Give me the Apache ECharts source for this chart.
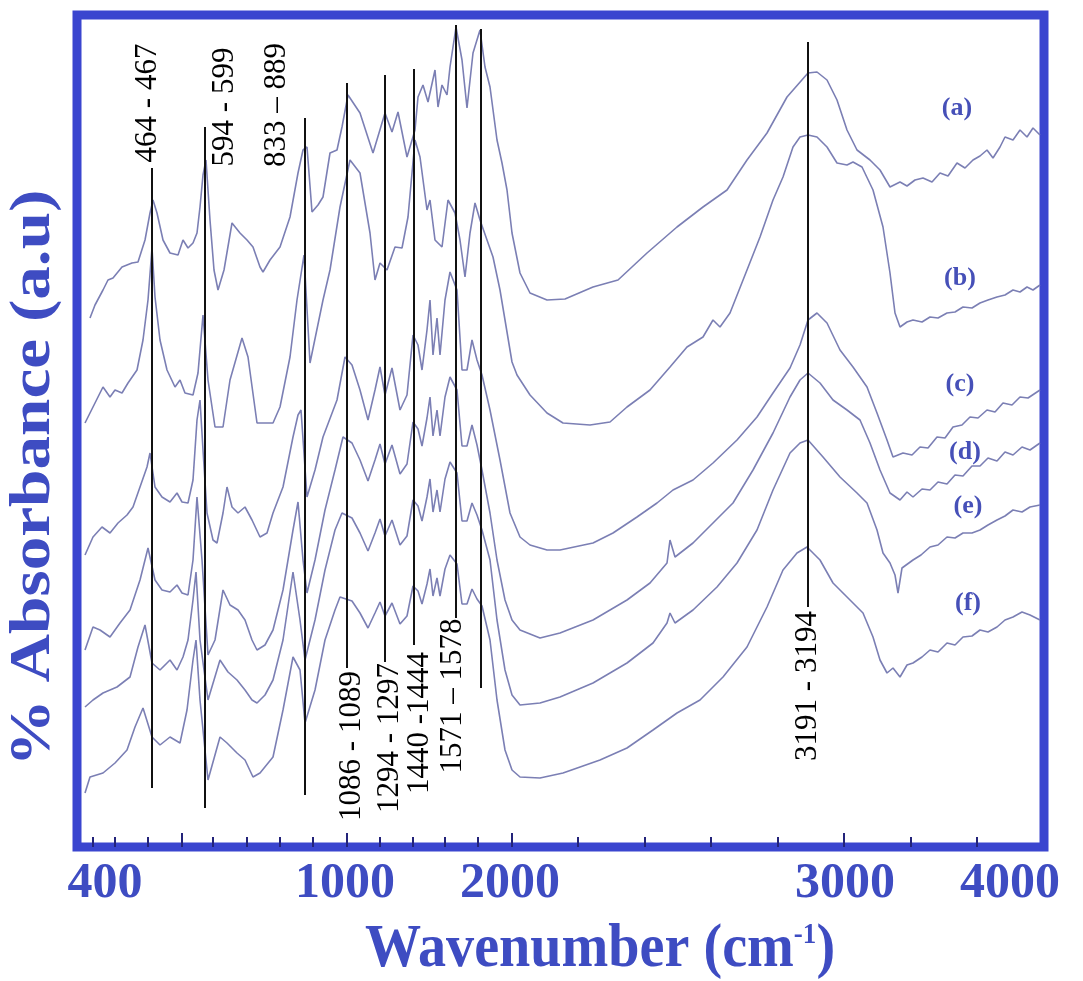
<!DOCTYPE html>
<html>
<head>
<meta charset="utf-8">
<script src="https://cdn.jsdelivr.net/npm/echarts@6.0.0/dist/echarts.min.js"></script>
<style>
html,body{margin:0;padding:0;background:#fff;}
#chart{width:1083px;height:981px;}
</style>
</head>
<body>
<div id="chart"></div>
<script>
// x: relative position along the (non-linear) wavenumber axis, 0..96.7
// y: absorbance, arbitrary units (stacked offsets), 0..8.32
const seriesNames = ['(a)', '(b)', '(c)', '(d)', '(e)', '(f)'];

const curveA = [[1.3,5.29],[1.8,5.42],[2.6,5.57],[3.1,5.67],[3.6,5.69],[4.5,5.80],[5.5,5.84],[6.1,5.85],[6.8,6.07],[7.3,6.34],[7.6,6.47],[8.0,6.34],[8.6,6.07],[9.3,5.94],[10.1,5.92],[10.6,6.07],[11.1,5.99],[11.6,6.04],[12.0,6.14],[12.3,6.40],[12.6,6.72],[12.9,6.87],[13.3,6.27],[13.7,5.77],[14.1,5.57],[14.7,5.77],[15.5,6.24],[16.3,6.14],[17.0,6.07],[17.6,6.00],[18.3,5.80],[18.6,5.75],[19.3,5.87],[20.3,6.00],[21.3,6.30],[22.1,6.74],[22.6,6.97],[23.0,7.00],[23.5,6.35],[24.1,6.42],[24.6,6.50],[25.3,6.94],[26.0,6.97],[26.5,7.20],[27.1,7.52],[28.3,7.34],[29.6,6.94],[30.8,7.34],[31.5,7.15],[32.1,7.35],[33.0,6.90],[33.8,7.17],[34.1,7.50],[34.6,7.62],[35.1,7.45],[35.8,7.77],[36.1,7.40],[36.5,7.62],[37.0,7.52],[37.3,7.80],[37.9,8.20],[38.5,7.87],[39.0,7.39],[39.6,7.94],[40.3,8.17],[40.8,7.80],[41.3,7.60],[42.0,7.07],[42.5,6.84],[43.0,6.57],[43.5,6.14],[44.3,5.74],[45.3,5.54],[47.0,5.47],[48.8,5.48],[51.6,5.60],[54.1,5.67],[57.0,5.94],[60.0,6.20],[62.6,6.40],[65.0,6.57],[67.0,6.87],[69.0,7.14],[71.0,7.50],[73.1,7.74],[74.0,7.75],[75.0,7.67],[76.0,7.47],[77.0,7.17],[78.0,6.97],[79.3,6.87],[80.3,6.77],[81.3,6.60],[82.3,6.65],[83.0,6.61],[83.8,6.67],[84.6,6.69],[85.5,6.65],[86.3,6.74],[87.1,6.71],[88.0,6.84],[88.8,6.79],[89.6,6.87],[90.3,6.91],[91.0,6.97],[91.6,6.89],[92.3,7.00],[92.8,7.10],[93.6,7.07],[94.3,7.17],[95.0,7.10],[95.6,7.19],[96.3,7.12]];

const curveB = [[0.8,4.24],[1.6,4.40],[2.6,4.60],[3.3,4.50],[3.8,4.57],[4.5,4.54],[5.1,4.64],[6.0,4.77],[6.6,5.07],[7.1,5.47],[7.5,5.99],[7.8,5.50],[8.3,5.07],[9.0,4.77],[9.8,4.60],[10.3,4.67],[10.8,4.54],[11.6,4.52],[12.1,4.74],[12.6,5.32],[13.1,4.67],[13.8,4.20],[14.6,4.20],[15.3,4.67],[16.5,5.09],[17.1,4.90],[18.0,4.24],[19.0,4.24],[19.6,4.24],[20.3,4.40],[21.3,4.90],[22.0,5.47],[22.7,5.92],[23.3,4.84],[24.6,5.47],[25.3,5.77],[26.3,6.40],[27.3,6.87],[28.3,6.74],[29.3,6.14],[29.8,5.67],[30.3,5.84],[31.0,5.77],[31.8,6.00],[32.5,5.99],[33.1,6.30],[33.8,7.07],[34.3,6.90],[35.0,6.37],[35.3,6.47],[35.8,6.07],[36.5,6.00],[37.1,6.47],[37.8,6.34],[38.3,6.07],[38.8,5.70],[39.3,6.14],[39.8,6.44],[40.3,6.27],[41.0,6.07],[41.6,5.90],[42.3,5.57],[42.8,5.27],[43.5,4.85],[44.0,4.72],[45.3,4.52],[47.0,4.34],[48.6,4.24],[51.3,4.22],[53.3,4.25],[55.0,4.40],[57.3,4.57],[59.3,4.80],[61.0,5.00],[62.6,5.10],[63.6,5.27],[64.3,5.20],[65.3,5.34],[67.0,5.77],[68.3,6.10],[69.6,6.47],[70.6,6.70],[71.6,7.00],[72.3,7.10],[73.1,7.12],[74.0,7.10],[75.0,7.00],[76.0,6.84],[77.0,6.82],[77.6,6.85],[78.5,6.80],[79.6,6.57],[80.6,6.20],[81.3,5.74],[81.8,5.34],[82.3,5.20],[83.0,5.25],[83.6,5.27],[84.5,5.25],[85.3,5.30],[86.1,5.29],[87.0,5.34],[87.8,5.35],[88.6,5.40],[89.5,5.39],[90.3,5.44],[91.1,5.47],[92.0,5.50],[92.8,5.52],[93.6,5.57],[94.3,5.55],[95.0,5.60],[95.6,5.57],[96.3,5.62]];

const curveC = [[0.8,2.92],[1.6,3.10],[2.5,3.20],[3.3,3.14],[4.1,3.24],[5.0,3.32],[5.6,3.40],[6.3,3.60],[7.0,3.80],[7.3,3.94],[7.8,3.60],[8.5,3.50],[9.3,3.45],[10.0,3.54],[10.5,3.45],[11.1,3.44],[11.6,3.67],[12.0,4.27],[12.3,4.47],[12.6,3.97],[13.0,3.34],[13.6,3.07],[14.0,3.04],[14.6,3.34],[15.0,3.60],[15.5,3.40],[16.1,3.34],[16.8,3.40],[17.5,3.27],[18.3,3.10],[19.0,3.14],[19.6,3.34],[20.6,3.60],[21.6,4.10],[22.1,4.32],[22.4,4.37],[23.0,3.50],[23.8,3.77],[24.6,4.10],[26.0,4.47],[26.8,4.90],[27.5,4.82],[28.3,4.57],[29.1,4.27],[29.8,4.57],[30.3,4.80],[30.8,4.52],[31.5,4.79],[32.3,4.37],[33.0,4.52],[33.6,5.12],[34.1,5.02],[34.5,4.77],[35.0,5.17],[35.3,5.47],[35.6,4.92],[36.0,5.29],[36.3,4.92],[36.8,5.47],[37.3,5.75],[38.0,5.57],[38.5,4.77],[39.0,4.77],[39.5,5.07],[40.0,4.87],[40.5,4.72],[41.3,4.37],[42.3,3.87],[43.3,3.34],[44.3,3.10],[45.3,3.02],[47.0,2.97],[48.3,2.97],[51.6,3.04],[53.6,3.14],[56.0,3.30],[58.0,3.44],[59.6,3.57],[61.6,3.67],[63.6,3.84],[66.0,4.07],[68.0,4.30],[69.6,4.54],[71.3,4.79],[72.3,5.02],[73.1,5.27],[74.0,5.34],[75.0,5.24],[76.3,4.97],[77.6,4.80],[79.0,4.60],[80.0,4.34],[81.0,4.07],[81.6,3.90],[82.6,3.94],[83.5,3.92],[84.3,4.00],[85.1,3.99],[86.0,4.10],[86.8,4.09],[87.6,4.20],[88.5,4.22],[89.3,4.30],[90.1,4.29],[91.0,4.37],[91.8,4.35],[92.6,4.44],[93.5,4.42],[94.3,4.50],[95.1,4.49],[96.3,4.57]];

const curveD = [[0.8,1.97],[1.6,2.20],[2.3,2.17],[3.3,2.10],[4.3,2.24],[5.3,2.37],[6.3,2.67],[7.1,2.99],[7.8,2.67],[8.5,2.57],[9.3,2.55],[10.0,2.62],[10.5,2.54],[11.1,2.52],[11.6,2.87],[12.0,3.50],[12.5,2.87],[13.1,1.92],[13.8,2.07],[14.6,2.57],[15.3,2.42],[16.1,2.37],[16.8,2.27],[17.5,2.07],[18.0,1.97],[18.8,2.02],[19.6,2.17],[20.6,2.57],[21.6,3.17],[22.1,3.45],[22.6,2.87],[23.0,2.54],[23.8,2.87],[24.8,3.37],[25.8,3.77],[26.6,4.10],[27.5,4.04],[28.3,3.87],[29.1,3.66],[29.8,3.87],[30.3,4.03],[30.8,3.83],[31.5,4.02],[32.3,3.73],[33.0,3.83],[33.6,4.25],[34.1,4.18],[34.5,4.01],[35.0,4.29],[35.3,4.50],[35.6,4.11],[36.0,4.37],[36.3,4.11],[36.8,4.50],[37.3,4.70],[38.0,4.57],[38.5,4.01],[39.0,4.01],[39.5,4.22],[40.0,4.02],[40.5,3.77],[41.3,3.34],[42.0,2.87],[42.8,2.47],[43.5,2.27],[44.3,2.17],[46.3,2.09],[48.3,2.14],[51.6,2.27],[55.0,2.47],[57.3,2.64],[59.0,2.84],[59.3,3.07],[59.8,2.90],[61.6,3.04],[63.6,3.24],[65.6,3.44],[67.6,3.77],[69.6,4.14],[71.3,4.50],[72.3,4.67],[73.1,4.74],[74.3,4.64],[75.6,4.47],[77.0,4.37],[78.3,4.27],[79.3,4.04],[80.3,3.77],[81.3,3.54],[82.3,3.47],[83.0,3.55],[83.6,3.50],[84.5,3.58],[85.3,3.57],[86.1,3.65],[87.0,3.63],[87.8,3.72],[88.6,3.71],[89.5,3.81],[90.3,3.81],[91.1,3.89],[92.0,3.86],[92.8,3.95],[93.6,3.92],[94.5,4.00],[95.3,3.97],[96.3,4.04]];

const curveE = [[0.8,1.40],[1.6,1.47],[2.6,1.54],[4.0,1.60],[5.3,1.70],[6.1,2.00],[6.8,2.22],[7.5,1.84],[8.3,1.77],[9.3,1.87],[10.0,1.77],[10.6,1.90],[11.1,2.07],[11.6,2.47],[11.9,2.75],[12.3,2.07],[13.1,1.47],[13.7,1.67],[14.3,1.87],[15.1,1.75],[16.0,1.67],[16.8,1.57],[17.5,1.47],[18.0,1.44],[18.8,1.52],[19.6,1.67],[20.6,2.07],[21.6,2.75],[22.3,2.27],[22.8,1.87],[23.8,2.27],[24.8,2.77],[25.8,3.17],[26.5,3.34],[27.5,3.29],[28.3,3.14],[29.1,2.96],[29.8,3.14],[30.3,3.28],[30.8,3.11],[31.5,3.27],[32.3,3.02],[33.0,3.11],[33.6,3.47],[34.1,3.41],[34.5,3.26],[35.0,3.50],[35.3,3.68],[35.6,3.35],[36.0,3.57],[36.3,3.35],[36.8,3.68],[37.3,3.85],[38.0,3.74],[38.5,3.26],[39.0,3.26],[39.5,3.44],[40.0,3.32],[40.5,3.17],[41.3,2.87],[42.0,2.27],[42.8,1.77],[43.5,1.52],[44.3,1.42],[46.3,1.44],[48.3,1.50],[51.6,1.64],[55.0,1.84],[57.6,2.04],[59.0,2.24],[59.3,2.34],[59.8,2.24],[61.6,2.37],[64.0,2.60],[66.0,2.84],[68.0,3.17],[69.6,3.57],[71.3,3.94],[72.3,4.04],[73.1,4.07],[74.6,3.90],[76.3,3.70],[78.0,3.54],[79.0,3.44],[80.0,3.17],[80.6,2.94],[81.3,2.84],[81.8,2.72],[82.1,2.54],[82.5,2.79],[83.6,2.87],[84.4,2.92],[85.3,3.00],[86.1,3.02],[87.0,3.10],[87.8,3.09],[88.6,3.14],[89.5,3.14],[90.3,3.17],[91.1,3.22],[92.0,3.27],[92.8,3.31],[93.6,3.37],[94.5,3.35],[95.3,3.40],[96.3,3.42]];

const curveF = [[0.8,0.54],[1.3,0.70],[2.6,0.74],[3.8,0.84],[5.0,0.97],[5.8,1.20],[6.6,1.39],[7.5,1.10],[8.3,1.02],[9.3,1.10],[10.3,1.04],[11.0,1.37],[11.6,1.87],[11.9,2.07],[12.3,1.47],[13.1,0.67],[14.3,1.10],[15.0,1.04],[16.0,0.94],[16.8,0.87],[17.6,0.70],[18.3,0.74],[19.6,0.90],[20.6,1.37],[21.6,1.90],[22.3,1.77],[22.8,1.24],[23.8,1.57],[24.8,2.07],[25.8,2.37],[26.3,2.50],[27.5,2.46],[28.3,2.34],[29.1,2.19],[29.8,2.34],[30.3,2.45],[30.8,2.31],[31.5,2.44],[32.3,2.23],[33.0,2.31],[33.6,2.61],[34.1,2.56],[34.5,2.43],[35.0,2.63],[35.3,2.78],[35.6,2.51],[36.0,2.69],[36.3,2.51],[36.8,2.78],[37.3,2.92],[38.0,2.83],[38.5,2.43],[39.0,2.43],[39.5,2.58],[40.0,2.48],[40.5,2.41],[41.3,2.07],[42.0,1.47],[42.8,0.97],[43.5,0.77],[44.3,0.70],[46.3,0.69],[48.6,0.74],[52.3,0.87],[55.0,0.99],[57.6,1.17],[60.0,1.34],[62.3,1.47],[64.6,1.70],[67.0,2.00],[69.0,2.40],[70.6,2.77],[72.0,2.94],[73.0,3.00],[74.3,2.87],[75.6,2.64],[77.0,2.50],[78.6,2.34],[79.6,2.10],[80.3,1.87],[81.0,1.74],[81.6,1.79],[82.3,1.70],[83.0,1.82],[83.6,1.84],[84.5,1.90],[85.3,1.97],[86.1,1.95],[87.0,2.04],[87.8,2.02],[88.6,2.10],[89.5,2.11],[90.3,2.17],[91.1,2.15],[92.0,2.20],[92.8,2.27],[93.6,2.30],[94.5,2.35],[95.3,2.32],[96.3,2.27]];

// Axis tick labels (as printed) and where they sit on the axis
const tickLabelTexts = ['400', '1000', '2000', '3000', '4000'];
const tickLabelValues = [2.8, 26.8, 43.3, 76.8, 93.3];
const majorTickValues = [10.5, 27.0, 43.5, 76.7];
const minorTickValues = [1.6, 3.8, 7.1, 13.6, 17.0, 20.3, 23.6, 30.3, 33.6, 36.8, 40.1, 50.1, 56.8, 63.4, 70.1, 83.4, 90.0];

// Peak marker lines
const peakX = [7.5, 12.8, 22.8, 27.0, 30.8, 33.7, 37.9, 40.4, 73.1];
const peakTop = [6.79, 7.20, 7.29, 7.64, 7.72, 7.78, 8.22, 8.18, 8.05];
const peakBottom = [0.59, 0.39, 0.52, 1.79, 1.85, 2.02, 2.29, 1.59, 2.40];

// Peak annotations
const peakLabelText = ['464 - 467', '594 - 599', '833 \u2013 889', '1086 - 1089', '1294 - 1297', '1440 -1444', '1571 \u2013 1578', '3191 - 3194'];
const peakLabelX = [7.1, 14.8, 20.0, 27.5, 31.3, 34.3, 37.6, 73.1];
const peakLabelY = [7.44, 7.40, 7.42, 1.01, 1.09, 1.24, 1.51, 1.61];

// Sample labels
const seriesLabelX = [88.0, 88.3, 88.3, 88.8, 89.1, 89.1];
const seriesLabelY = [7.39, 5.69, 4.63, 3.95, 3.41, 2.44];

const curves = [curveA, curveB, curveC, curveD, curveE, curveF];

const chart = echarts.init(document.getElementById('chart'), null, {renderer: 'canvas'});
const SERIF = '"Liberation Serif", "Times New Roman", serif';
const BLUE = '#3a45cf';
const TEXTBLUE = '#3e4cc2';
const CURVE = '#7b7fb4';

const series = curves.map((d, i) => ({
  name: seriesNames[i],
  type: 'line',
  data: d,
  showSymbol: false,
  symbol: 'none',
  lineStyle: {color: CURVE, width: 1.6},
  z: 2
}));

series.push({
  type: 'lines',
  coordinateSystem: 'cartesian2d',
  polyline: false,
  silent: true,
  lineStyle: {color: '#111', width: 2, opacity: 1},
  data: peakX.map((x, i) => ({coords: [[x, peakTop[i]], [x, peakBottom[i]]]})),
  z: 3
});

series.push({
  type: 'scatter',
  silent: true,
  symbolSize: 1,
  itemStyle: {color: 'rgba(0,0,0,0)', opacity: 1},
  data: peakLabelText.map((t, i) => ({name: t, value: [peakLabelX[i], peakLabelY[i]]})),
  label: {
    show: true, position: 'inside', rotate: 90, formatter: p => p.name,
    fontFamily: SERIF, fontSize: 31, color: '#000', opacity: 1
  },
  labelLayout: {hideOverlap: false},
  z: 4
});

series.push({
  type: 'scatter',
  silent: true,
  symbolSize: 1,
  itemStyle: {color: 'rgba(0,0,0,0)', opacity: 1},
  data: seriesNames.map((t, i) => ({name: t, value: [seriesLabelX[i], seriesLabelY[i]]})),
  label: {
    show: true, position: 'inside', formatter: p => p.name,
    fontFamily: SERIF, fontWeight: 'bold', fontSize: 26, color: '#4650b8', opacity: 1
  },
  labelLayout: {hideOverlap: false},
  z: 4
});

function labelFor(v) {
  let best = 0, bd = Infinity;
  tickLabelValues.forEach((t, i) => { const d = Math.abs(t - v); if (d < bd) { bd = d; best = i; } });
  return tickLabelTexts[best];
}

const option = {
  animation: false,
  backgroundColor: '#fff',
  grid: {
    left: 77, right: 39, top: 15, bottom: 134,
    show: true, borderColor: BLUE, borderWidth: 9, backgroundColor: '#fff',
    outerBoundsMode: 'none', containLabel: false
  },
  xAxis: [{
    type: 'value', min: 0, max: 96.7, position: 'bottom',
    axisLine: {show: false}, splitLine: {show: false},
    axisTick: {show: true, inside: true, length: 14, lineStyle: {color: '#23237a', width: 2}, customValues: majorTickValues},
    axisLabel: {
      show: true, customValues: tickLabelValues, formatter: labelFor,
      fontFamily: SERIF, fontWeight: 'bold', fontSize: 50, color: TEXTBLUE, margin: 12
    }
  }, {
    type: 'value', min: 0, max: 96.7, position: 'bottom',
    axisLine: {show: false}, splitLine: {show: false},
    axisTick: {show: true, inside: true, length: 10, lineStyle: {color: '#23237a', width: 2}, customValues: minorTickValues},
    axisLabel: {show: false}
  }],
  yAxis: {type: 'value', min: 0, max: 8.32, show: false},
  graphic: [{
    type: 'text', x: 35, y: 478, rotation: Math.PI / 2, scaleX: 1.2, scaleY: 1,
    style: {text: '% Absorbance (a.u)', fontFamily: SERIF, fontWeight: 'bold', fontSize: 56, fill: TEXTBLUE, align: 'center', verticalAlign: 'middle'}
  }, {
    type: 'text', x: 600, y: 950, scaleX: 1.04, scaleY: 1.15,
    style: {
      text: '{t|Wavenumber (cm}{s|-1}{t|)}',
      align: 'center', verticalAlign: 'middle',
      rich: {
        t: {fontFamily: SERIF, fontWeight: 'bold', fontSize: 54, fill: TEXTBLUE},
        s: {fontFamily: SERIF, fontWeight: 'bold', fontSize: 26, fill: TEXTBLUE, padding: [0, 0, 26, 0]}
      }
    }
  }],
  series: series
};
chart.setOption(option);
</script>
</body>
</html>
